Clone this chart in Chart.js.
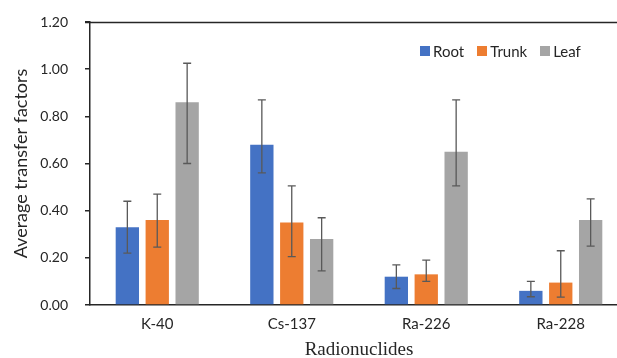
<!DOCTYPE html>
<html>
<head>
<meta charset="utf-8">
<script src="https://cdn.jsdelivr.net/npm/chart.js@4/dist/chart.umd.min.js"></script>
<style>
    body { margin: 0; overflow: hidden; background: #fff; }
    #wrap { position: relative; width: 617px; height: 358px; overflow: hidden; }
    #legend { position: absolute; left: 420px; top: 42px; display: flex; align-items: center;
              font-family: Lato, "Open Sans", sans-serif; font-size: 15px; color: #262626; }
    #legend .item { display: flex; align-items: center; margin-right: 13px; }
    #legend .box { width: 10px; height: 10px; margin-right: 3px; }
</style>
</head>
<body>
<div id="wrap">
    <canvas id="TransferChart" width="640" height="358"></canvas>
    <div id="legend"></div>
</div>
<script>
const nuclides = ["K-40", "Cs-137", "Ra-226", "Ra-228"];
const yTicks = [0, 0.2, 0.4, 0.6, 0.8, 1.0, 1.2];

const rootValues = [0.33, 0.68, 0.12, 0.06];
const rootErrUp = [0.11, 0.19, 0.05, 0.04];
const rootErrDown = [0.11, 0.12, 0.05, 0.025];

const trunkValues = [0.36, 0.35, 0.13, 0.095];
const trunkErrUp = [0.11, 0.155, 0.06, 0.135];
const trunkErrDown = [0.115, 0.145, 0.03, 0.062];

const leafValues = [0.86, 0.28, 0.65, 0.36];
const leafErrUp = [0.165, 0.09, 0.22, 0.09];
const leafErrDown = [0.26, 0.135, 0.145, 0.11];

const axisColor = "#262626";

// error bars drawn from the y scale of the chart
const errorBars = {
    id: 'errorBars',
    afterDatasetsDraw(chart) {
        const ctx = chart.ctx;
        const y = chart.scales.y;
        ctx.save();
        ctx.strokeStyle = "#595959";
        ctx.lineWidth = 1.3;
        chart.data.datasets.forEach((ds, i) => {
            const meta = chart.getDatasetMeta(i);
            meta.data.forEach((bar, j) => {
                const v = ds.data[j];
                const top = y.getPixelForValue(v + ds.errUp[j]);
                const bot = y.getPixelForValue(v - ds.errDown[j]);
                ctx.beginPath();
                ctx.moveTo(bar.x, top);
                ctx.lineTo(bar.x, bot);
                ctx.moveTo(bar.x - 4, top);
                ctx.lineTo(bar.x + 4, top);
                ctx.moveTo(bar.x - 4, bot);
                ctx.lineTo(bar.x + 4, bot);
                ctx.stroke();
            });
        });
        ctx.restore();
    }
};

// top frame line of the plot area, at the max of the y scale
const topFrame = {
    id: 'topFrame',
    afterDraw(chart) {
        const ctx = chart.ctx;
        const yTop = Math.round(chart.scales.y.getPixelForValue(chart.scales.y.max)) + 0.5;
        ctx.save();
        ctx.strokeStyle = axisColor;
        ctx.lineWidth = 1.5;
        ctx.beginPath();
        ctx.moveTo(chart.chartArea.left - 5, yTop);
        ctx.lineTo(chart.chartArea.right, yTop);
        ctx.stroke();
        ctx.restore();
    }
};

const transferChart = new Chart(document.querySelector('#TransferChart'), {
    type: 'bar',
    data: {
        labels: nuclides,
        datasets: [{
            label: 'Root',
            data: rootValues,
            errUp: rootErrUp,
            errDown: rootErrDown,
            backgroundColor: "#4472C4"
        }, {
            label: 'Trunk',
            data: trunkValues,
            errUp: trunkErrUp,
            errDown: trunkErrDown,
            backgroundColor: "#ED7D31"
        }, {
            label: 'Leaf',
            data: leafValues,
            errUp: leafErrUp,
            errDown: leafErrDown,
            backgroundColor: "#A5A5A5"
        }]
    },
    options: {
        responsive: false,
        animation: false,
        categoryPercentage: 0.667,
        barPercentage: 0.78,
        layout: {
            padding: { left: 6, right: 12, top: 22, bottom: 0 }
        },
        plugins: {
            legend: { display: false },
            tooltip: { enabled: false }
        },
        scales: {
            x: {
                grid: { display: false },
                border: { display: true, color: axisColor, width: 1.5 },
                ticks: {
                    padding: 2,
                    color: axisColor,
                    font: { family: "Lato", size: 15 }
                },
                title: {
                    display: true,
                    text: 'Radionuclides',
                    color: axisColor,
                    font: { family: "Liberation Serif", size: 19, lineHeight: 0.8 },
                    padding: { top: 0, bottom: 0 }
                },
                afterFit: (scale) => { scale.height = 53; scale.paddingTop = 0; }
            },
            y: {
                min: 0,
                max: 1.2,
                afterBuildTicks: (scale) => { scale.ticks = yTicks.map(v => ({ value: v })); },
                grid: {
                    color: "rgba(0,0,0,0)",
                    lineWidth: 1.5,
                    tickColor: axisColor,
                    tickLength: 5
                },
                border: { display: true, color: axisColor, width: 1.5 },
                ticks: {
                    padding: 17,
                    color: axisColor,
                    font: { family: "Lato", size: 14 },
                    callback: (v) => Number(v).toFixed(2)
                },
                title: {
                    display: true,
                    text: 'Average transfer factors',
                    color: axisColor,
                    font: { family: "Lato", size: 18 },
                    padding: { top: 4, bottom: 0 }
                },
                afterFit: (scale) => { scale.width = 84; scale.paddingTop = 0; scale.paddingBottom = 0; }
            }
        }
    },
    plugins: [errorBars, topFrame]
});

const legendBox = document.querySelector('#legend');
transferChart.data.datasets.forEach(ds => {
    legendBox.innerHTML += `<div class="item"><div class="box" style="background:${ds.backgroundColor}"></div><span>${ds.label}</span></div>`;
});
</script>
</body>
</html>
